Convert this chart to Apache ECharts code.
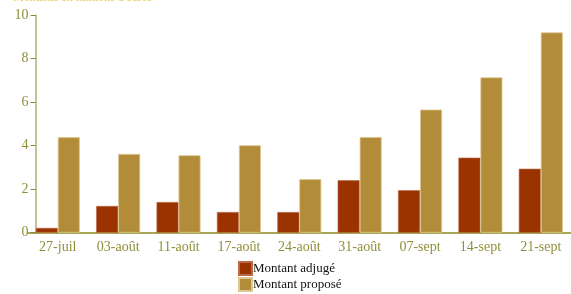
<!DOCTYPE html>
<html>
<head>
<meta charset="utf-8">
<script src="https://cdn.jsdelivr.net/npm/echarts@6/dist/echarts.min.js"></script>
<style>
  html, body { margin: 0; padding: 0; background: #fff; }
  #chart { width: 571px; height: 294px; }
</style>
</head>
<body>
<div id="chart"></div>
<script>
const categories = ['27-juil', '03-août', '11-août', '17-août', '24-août', '31-août', '07-sept', '14-sept', '21-sept']
const adjuge = [0.22, 1.23, 1.41, 0.95, 0.95, 2.41, 1.95, 3.45, 2.94]
const propose = [4.39, 3.62, 3.56, 4.02, 2.46, 4.40, 5.66, 7.14, 9.21]
const yTicks = { min: 0, max: 10, interval: 2 }

const fontFamily = '"Liberation Serif", "DejaVu Serif", serif'
const olive = '#8f8f3a'

const chart = echarts.init(document.getElementById('chart'))
chart.setOption({
  animation: false,
  title: {
    text: 'Montants en millions d\'euros',
    left: 8,
    top: -13,
    textStyle: { color: '#e6cc5a', fontSize: 12, fontFamily: fontFamily, fontWeight: 'normal' }
  },
  grid: {
    left: 27.6,
    right: -12,
    top: 15.2,
    bottom: 61.3,
    containLabel: false
  },
  legend: {
    orient: 'vertical',
    left: 238,
    top: 261,
    padding: 0,
    itemWidth: 13,
    itemHeight: 13,
    itemGap: 1,
    icon: 'rect',
    textStyle: { color: '#111', fontSize: 13, fontFamily: fontFamily, padding: [0, 0, 0, -4] },
    data: ['Montant adjugé', 'Montant proposé']
  },
  xAxis: {
    type: 'category',
    data: categories,
    axisLine: { lineStyle: { color: '#8a8a1e', width: 1.5 } },
    axisTick: { show: false },
    axisLabel: { color: olive, fontSize: 14, fontFamily: fontFamily, margin: 8 }
  },
  yAxis: {
    type: 'value',
    min: yTicks.min,
    max: yTicks.max,
    interval: yTicks.interval,
    offset: -8,
    axisLine: { show: true, lineStyle: { color: '#b2b078', width: 1.5 } },
    axisTick: { show: true, length: 5, lineStyle: { color: '#8a8a2e' } },
    axisLabel: { color: olive, fontSize: 14, fontFamily: fontFamily, margin: 7 },
    splitLine: { show: false }
  },
  series: [
    {
      name: 'Montant adjugé',
      type: 'bar',
      data: adjuge,
      barWidth: 22,
      barGap: '0%',
      itemStyle: { color: '#9b3300', borderColor: '#b86a4a', borderWidth: 0.6 }
    },
    {
      name: 'Montant proposé',
      type: 'bar',
      data: propose,
      barWidth: 22,
      barGap: '0%',
      itemStyle: { color: '#b28c38', borderColor: '#dcc890', borderWidth: 0.8 }
    }
  ]
})
</script>
</body>
</html>
